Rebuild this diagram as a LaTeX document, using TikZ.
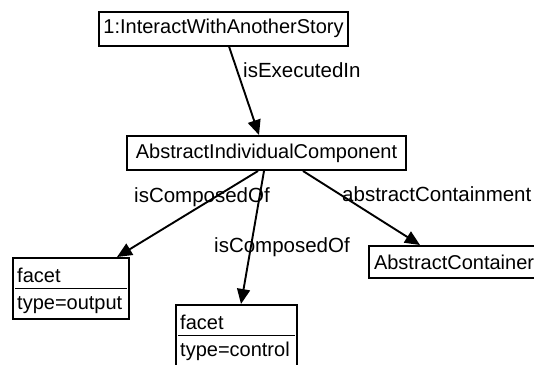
\documentclass[tikz,border=0pt]{standalone}
\usepackage{fontspec}
\setmainfont{Liberation Sans}
\usetikzlibrary{arrows.meta}

\begin{document}
\begin{tikzpicture}[x=1pt,y=-1pt,
  box/.style={draw, line width=2pt, inner xsep=4pt, inner ysep=0pt,
    minimum height=34pt, font=\fontsize{20}{24}\selectfont},
  facetbox/.style={draw, line width=2pt, inner sep=0pt},
  ftext/.style={inner sep=0pt, anchor=base west, font=\fontsize{20}{24}\selectfont},
  lbl/.style={inner sep=0pt, anchor=base west, font=\fontsize{20.5}{24}\selectfont},
  arr/.style={line width=1.9pt, -{Triangle[length=15pt,width=13pt]}}]

\clip (0,0) rectangle (534,364);
\fill[white] (0,0) rectangle (534,364);

% object boxes
\node[box, minimum width=249pt] (story) at (223.5,28.5) {1:InteractWithAnotherStory};
\node[box, minimum width=279pt] (aic) at (266.5,153) {AbstractIndividualComponent};
\node[box, anchor=west, text width=166pt, align=left, inner xsep=5pt, minimum height=32pt]
  (cont) at (368,262) {AbstractContainer};

% facet with output type
\node[facetbox, minimum width=116pt, minimum height=61pt] (fout) at (71,288.5) {};
\draw[line width=1.8pt] ([xshift=3pt]fout.west) -- ([xshift=-3pt]fout.east);
\node[ftext] (fouta) at ([xshift=5pt,yshift=6pt]fout.west) {facet};
\node[ftext] (foutb) at ([xshift=5pt,yshift=-21pt]fout.west) {type=output};

% facet with control type
\node[facetbox, minimum width=121pt, minimum height=61pt] (fctl) at (236.5,335.5) {};
\draw[line width=1.8pt] ([xshift=3pt]fctl.west) -- ([xshift=-3pt]fctl.east);
\node[ftext] (fctla) at ([xshift=5pt,yshift=6pt]fctl.west) {facet};
\node[ftext] (fctlb) at ([xshift=5pt,yshift=-21pt]fctl.west) {type=control};

% association labels
\node[lbl] (lexec) at (243,77) {isExecutedIn};
\node[lbl] (lcomp1) at (134,202) {isComposedOf};
\node[lbl] (lcomp2) at (214,252) {isComposedOf};
\node[lbl] (lcont) at (342,201) {abstractContainment};

% associations
\draw[arr] ([xshift=5.5pt]story.south) -- ([xshift=-7.5pt]aic.north);
\draw[arr] ([xshift=-8.5pt]aic.south) -- ([xshift=46pt]fout.north);
\draw[arr] ([xshift=-2.5pt]aic.south) -- ([xshift=4.5pt]fctl.north);
\draw[arr] ([xshift=36.5pt]aic.south) -- ([xshift=-37pt]cont.north);
\end{tikzpicture}
\end{document}
